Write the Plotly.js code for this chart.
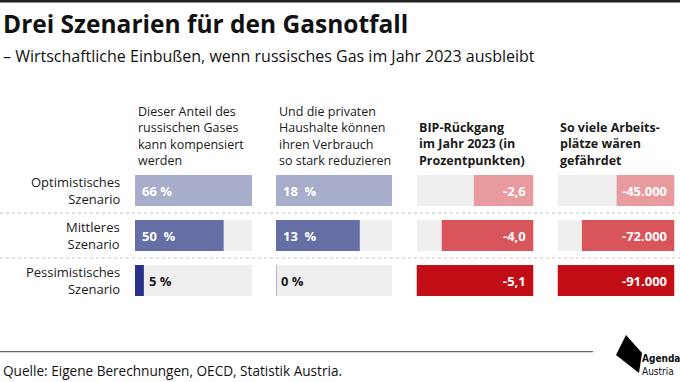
<!DOCTYPE html>
<html><head><meta charset="utf-8">
<script src="https://cdn.plot.ly/plotly-3.0.1.min.js"></script>
<style>html,body{margin:0;padding:0;background:#fff}#chart{width:680px;height:382px}</style>
</head><body><div id="chart"></div>
<script>
// ---- data ----
const scenarios = ['Optimistisches Szenario', 'Mittleres Szenario', 'Pessimistisches Szenario'];
const scenarioLabels = ['Optimistisches<br>Szenario', 'Mittleres<br>Szenario', 'Pessimistisches<br>Szenario'];
const columnHeaders = [
  'Dieser Anteil des<br>russischen Gases<br>kann kompensiert<br>werden',
  'Und die privaten<br>Haushalte können<br>ihren Verbrauch<br>so stark reduzieren',
  '<b>BIP-Rückgang<br>im Jahr 2023 (in<br>Prozentpunkten)</b>',
  '<b>So viele Arbeits-<br>plätze wären<br>gefährdet</b>'
];
const gasCompensated = [66, 50, 5];          // %
const gasLabels = ['66 %', '50\u00a0 %', '5 %'];
const householdReduction = [18, 13, 0];      // %
const householdLabels = ['18\u00a0 %', '13\u00a0 %', '0 %'];
const gdpDecline = [-2.6, -4.0, -5.1];       // Prozentpunkte
const gdpLabels = ['-2,6', '-4,0', '-5,1'];
const jobsAtRisk = [-45000, -72000, -91000];
const jobsLabels = ['-45.000', '-72.000', '-91.000'];
const titleText = 'Drei Szenarien für den Gasnotfall';
const subtitleText = '– Wirtschaftliche Einbußen, wenn russisches Gas im Jahr 2023 ausbleibt';
const sourceText = 'Quelle: Eigene Berechnungen, OECD, Statistik Austria.';

// ---- styling ----
const W = 680, H = 382;
const FONT = '"Open Sans", "Noto Sans", sans-serif';
const LOGOFONT = '"DejaVu Sans Condensed", "Liberation Sans Narrow", sans-serif';
const blues = ['#a9adcc', '#666ea6', '#28328a'];
const reds = ['#e89b9e', '#d9555b', '#c30d15'];
const bgGrey = '#efefef';
const px = v => v / W, py = v => 1 - v / H;

const cols = [
  {vals: gasCompensated, labels: gasLabels, colors: blues, dom: [135, 252], ax: 'x', neg: false},
  {vals: householdReduction, labels: householdLabels, colors: blues, dom: [276, 392], ax: 'x2', neg: false},
  {vals: gdpDecline, labels: gdpLabels, colors: reds, dom: [416.5, 533.5], ax: 'x3', neg: true},
  {vals: jobsAtRisk, labels: jobsLabels, colors: reds, dom: [557.5, 674.5], ax: 'x4', neg: true}
];

const traces = [];
const annotations = [];
const shapes = [];
const layout = {
  width: W, height: H,
  margin: {l: 0, r: 0, t: 0, b: 0},
  paper_bgcolor: '#fff', plot_bgcolor: 'rgba(0,0,0,0)',
  showlegend: false, barmode: 'overlay',
  font: {family: FONT, color: '#1a1a1a', size: 13},
  yaxis: {type: 'category', categoryarray: scenarios, range: [2.5, -0.5],
          domain: [py(303), py(168)], visible: false, fixedrange: true}
};

cols.forEach((c, i) => {
  const ext = c.neg ? Math.min(...c.vals) : Math.max(...c.vals);
  const axName = 'xaxis' + (i ? i + 1 : '');
  layout[axName] = {domain: [px(c.dom[0]), px(c.dom[1])], range: c.neg ? [ext, 0] : [0, ext],
                    visible: false, fixedrange: true, anchor: 'y'};
  traces.push({type: 'bar', orientation: 'h', xaxis: c.ax, yaxis: 'y', y: scenarios,
               x: scenarios.map(() => ext), width: 0.69, marker: {color: bgGrey}, hoverinfo: 'skip'});
  traces.push({type: 'bar', orientation: 'h', xaxis: c.ax, yaxis: 'y', y: scenarios,
               x: c.vals, width: 0.69, marker: {color: c.colors}, hoverinfo: 'x'});
  c.vals.forEach((v, j) => {
    if (c.neg) {
      annotations.push({xref: c.ax, yref: 'y', x: 0, y: scenarios[j], text: '<b>' + c.labels[j] + '</b>',
        xanchor: 'right', yanchor: 'middle', xshift: -6, showarrow: false,
        font: {color: '#fff', size: 13}});
    } else {
      const inside = Math.abs(v) / Math.abs(ext) > 0.3;
      annotations.push({xref: c.ax, yref: 'y', x: inside ? 0 : v, y: scenarios[j], text: '<b>' + c.labels[j] + '</b>',
        xanchor: 'left', yanchor: 'middle', xshift: inside ? 5 : 3, showarrow: false,
        font: {color: inside ? '#fff' : '#1a1a1a', size: 13}});
      if (v === 0) {
        shapes.push({type: 'line', xref: c.ax, yref: 'y', x0: 0, x1: 0, y0: j - 0.345, y1: j + 0.345,
          line: {color: '#b3b6d3', width: 2}});
      }
    }
  });
  annotations.push({xref: 'paper', yref: 'paper', x: px(c.dom[0] + 0.5), y: py(171), xanchor: 'left', yanchor: 'bottom',
    align: 'left', text: columnHeaders[i], showarrow: false, font: {size: 12.5, color: '#1a1a1a'}});
});

scenarios.forEach((s, j) => {
  annotations.push({xref: 'paper', yref: 'y', x: px(122), y: s, xanchor: 'right', yanchor: 'middle', align: 'right',
    text: scenarioLabels[j], showarrow: false, font: {size: 13, color: '#1a1a1a'}});
  if (j > 0) {
    shapes.push({type: 'line', xref: 'paper', yref: 'y', x0: 0, x1: 1, y0: j - 0.5, y1: j - 0.5,
      line: {color: '#c4c4c4', width: 1, dash: 'dot'}});
  }
});

annotations.push({xref: 'paper', yref: 'paper', x: px(1), y: py(24), xanchor: 'left', yanchor: 'middle',
  text: '<b>' + titleText + '</b>', showarrow: false, font: {size: 24.5, color: '#111'}});
annotations.push({xref: 'paper', yref: 'paper', x: px(1), y: py(56), xanchor: 'left', yanchor: 'middle',
  text: subtitleText, showarrow: false, font: {size: 16, color: '#111'}});
annotations.push({xref: 'paper', yref: 'paper', x: px(1), y: py(370.5), xanchor: 'left', yanchor: 'middle',
  text: sourceText, showarrow: false, font: {size: 13.6, color: '#111'}});
annotations.push({xref: 'paper', yref: 'paper', x: px(641), y: py(358.5), xanchor: 'left', yanchor: 'middle',
  text: '<b>Agenda</b>', showarrow: false, borderpad: 0, font: {size: 10, color: '#111', family: LOGOFONT}});
annotations.push({xref: 'paper', yref: 'paper', x: px(641), y: py(371), xanchor: 'left', yanchor: 'middle',
  text: 'Austria', showarrow: false, borderpad: 0, font: {size: 10, color: '#111', family: LOGOFONT}});

// frame lines and logo
shapes.push({type: 'line', xref: 'paper', yref: 'paper', x0: 0, x1: 1, y0: py(1.3), y1: py(1.3),
  line: {color: '#222', width: 2.6}});
shapes.push({type: 'line', xref: 'paper', yref: 'paper', x0: 0, x1: px(593), y0: py(351.7), y1: py(351.7),
  line: {color: '#444', width: 1}});
shapes.push({type: 'path', xref: 'paper', yref: 'paper',
  path: `M${px(626)},${py(335)} L${px(642)},${py(353)} L${px(639)},${py(373)} L${px(616)},${py(355)} Z`,
  fillcolor: '#000', line: {width: 0}});

layout.annotations = annotations;
layout.shapes = shapes;
Plotly.newPlot('chart', traces, layout, {displayModeBar: false, staticPlot: true});
</script></body></html>
